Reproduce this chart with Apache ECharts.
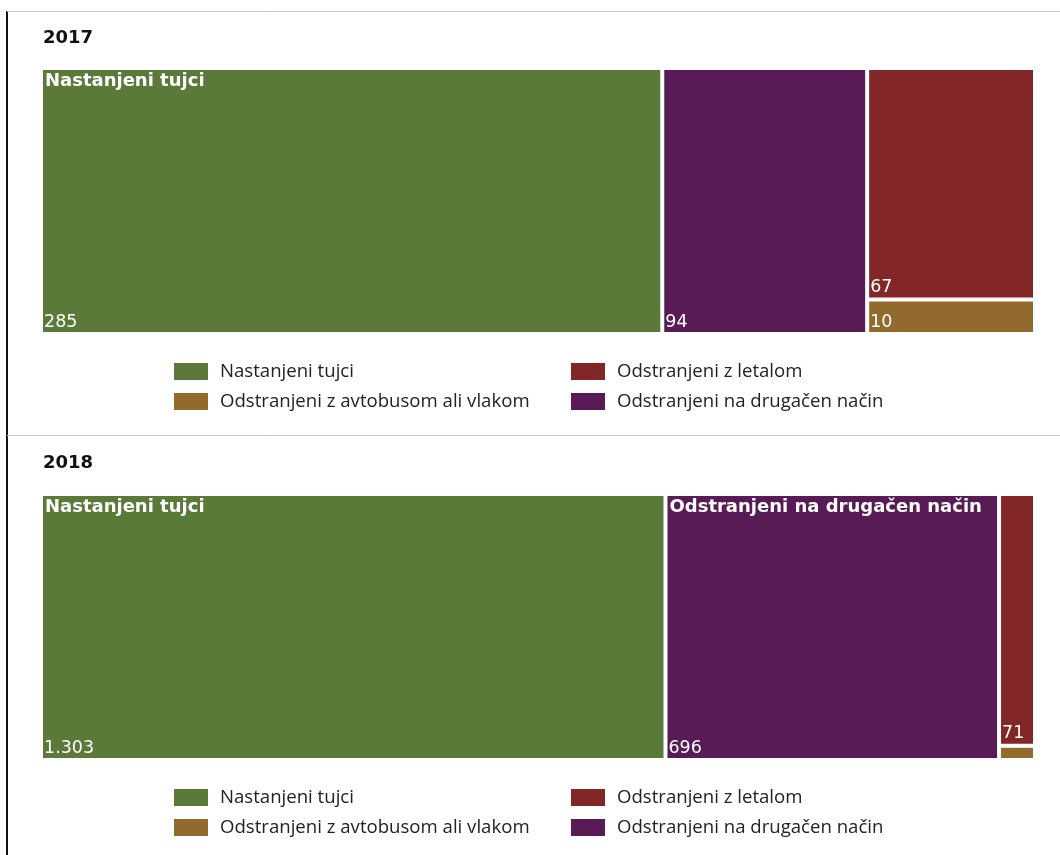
<!DOCTYPE html>
<html>
<head>
<meta charset="utf-8">
<script src="https://cdn.jsdelivr.net/npm/echarts@6/dist/echarts.min.js"></script>
<style>
html,body{margin:0;padding:0;background:#fff;}
#chart{width:1060px;height:855px;}
</style>
</head>
<body>
<div id="chart"></div>
<script>
// ---- data ----
const years = ['2017', '2018'];
const categories = ['Nastanjeni tujci', 'Odstranjeni na drugačen način', 'Odstranjeni z letalom', 'Odstranjeni z avtobusom ali vlakom'];
const values2017 = [285, 94, 67, 10];
const values2018 = [1303, 696, 71, 4];
const legendOrder = ['Nastanjeni tujci', 'Odstranjeni z letalom', 'Odstranjeni z avtobusom ali vlakom', 'Odstranjeni na drugačen način'];
const colors = {
  'Nastanjeni tujci': '#5B7A3A',
  'Odstranjeni na drugačen način': '#581B56',
  'Odstranjeni z letalom': '#822628',
  'Odstranjeni z avtobusom ali vlakom': '#936A2D'
};

// ---- layout ----
const BOX = { left: 41, width: 994, height: 266 };
const panelTops = [68, 494];
const titleTops = [29, 454];
const legendTops = [363, 789];
const legendCols = [174, 571];
const legendRowGap = 30;

const nameFont = 'bold 18px "DejaVu Sans"';
const measureCtx = document.createElement('canvas').getContext('2d');
function textWidth(t, font) { measureCtx.font = font; return measureCtx.measureText(t).width; }

function fmt(v) {
  return String(v).replace(/\B(?=(\d{3})+(?!\d))/g, '.');
}

const allValues = [values2017, values2018];
const series = [];
const titles = [];
const graphics = [];

allValues.forEach((vals, p) => {
  const total = vals.reduce((a, b) => a + b, 0);
  const data = categories.map((c, i) => ({
    name: c,
    value: vals[i],
    itemStyle: { color: colors[c] }
  }));
  const common = {
    type: 'treemap',
    left: BOX.left, top: panelTops[p], width: BOX.width, height: BOX.height,
    roam: false, nodeClick: false,
    squareRatio: 1,
    breadcrumb: { show: false },
    animation: false,
    silent: true,
    levels: [
      { itemStyle: { borderWidth: 0, gapWidth: 0 } },
      { itemStyle: { borderWidth: 2, gapWidth: 0 } }
    ]
  };
  // coloured rectangles with names in the top-left corner
  series.push(Object.assign({}, common, {
    data: data,
    itemStyle: { borderColor: '#ffffff', borderWidth: 2, gapWidth: 0 },
    label: {
      show: true,
      position: 'insideTopLeft',
      distance: 2,
      padding: 0,
      color: '#ffffff',
      fontFamily: 'DejaVu Sans',
      fontWeight: 'bold',
      fontSize: 18,
      overflow: 'none',
      formatter: function (prm) {
        const w = prm.value / total * BOX.width;
        return textWidth(prm.name, nameFont) + 6 < w ? prm.name : '';
      }
    }
  }));
  // value labels in the bottom-left corner (same layout, transparent rects)
  series.push(Object.assign({}, common, {
    data: data.map(d => ({ name: d.name, value: d.value, itemStyle: { color: 'rgba(0,0,0,0)' } })),
    itemStyle: { borderColor: 'rgba(0,0,0,0)', borderWidth: 2, gapWidth: 0, color: 'rgba(0,0,0,0)' },
    label: {
      show: true,
      position: 'insideBottomLeft',
      distance: 1,
      padding: 0,
      color: '#ffffff',
      fontFamily: 'DejaVu Sans',
      fontWeight: 'normal',
      fontSize: 17.5,
      overflow: 'none',
      formatter: function (prm) { return fmt(prm.value); }
    }
  }));

  titles.push({
    text: years[p],
    left: 43, top: titleTops[p], padding: 0,
    textStyle: { fontFamily: 'DejaVu Sans', fontWeight: 'bold', fontSize: 18, color: '#111' }
  });

  legendOrder.forEach((name, i) => {
    const x = legendCols[i % 2];
    const y = legendTops[p] + Math.floor(i / 2) * legendRowGap;
    graphics.push({
      type: 'rect', left: x, top: y,
      shape: { width: 34, height: 17 },
      style: { fill: colors[name] }, silent: true
    });
    graphics.push({
      type: 'text', left: x + 46, top: y - 1,
      style: { text: name, fill: '#222', font: '18.6px "Open Sans"' }, silent: true
    });
  });
});

// frame lines
graphics.push({ type: 'line', shape: { x1: 7, y1: 11, x2: 7, y2: 855 }, style: { stroke: '#111', lineWidth: 2 }, silent: true });
graphics.push({ type: 'line', shape: { x1: 7, y1: 11.5, x2: 1060, y2: 11.5 }, style: { stroke: '#c8c8c8', lineWidth: 1 }, silent: true });
graphics.push({ type: 'line', shape: { x1: 7, y1: 435.5, x2: 1060, y2: 435.5 }, style: { stroke: '#c8c8c8', lineWidth: 1 }, silent: true });

const chart = echarts.init(document.getElementById('chart'), null, { renderer: 'canvas' });
chart.setOption({
  backgroundColor: '#ffffff',
  animation: false,
  title: titles,
  series: series,
  graphic: { elements: graphics }
});
</script>
</body>
</html>
